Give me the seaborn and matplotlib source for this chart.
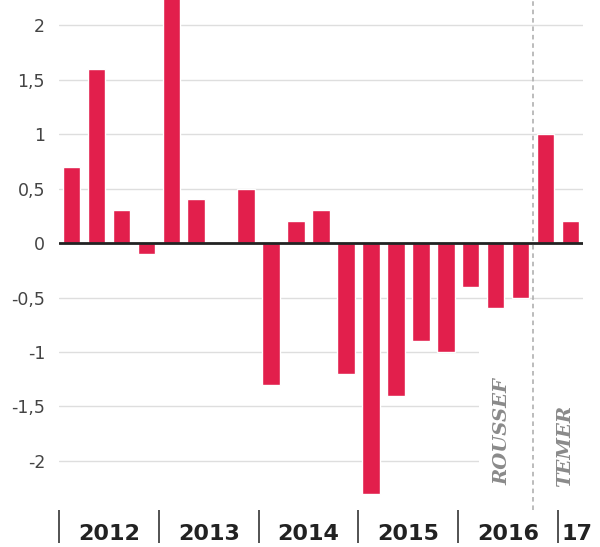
import matplotlib
matplotlib.use("Agg")
import matplotlib.pyplot as plt
from matplotlib.patches import Rectangle
import seaborn as sns
import pandas as pd

# variação trimestral do PIB (%)
trimestres = ["2012T1", "2012T2", "2012T3", "2012T4",
              "2013T1", "2013T2", "2013T3", "2013T4",
              "2014T1", "2014T2", "2014T3", "2014T4",
              "2015T1", "2015T2", "2015T3", "2015T4",
              "2016T1", "2016T2", "2016T3", "2016T4",
              "2017T1"]
valores = [0.7, 1.6, 0.3, -0.1,
           2.4, 0.4, 0.0, 0.5,
           -1.3, 0.2, 0.3, -1.2,
           -2.3, -1.4, -0.9, -1.0,
           -0.4, -0.6, -0.5, 1.0,
           0.2]
anos = ["2012", "2013", "2014", "2015", "2016", "17"]
pos_anos = [1.5, 5.5, 9.5, 13.5, 17.5, 20.25]
separadores = [-0.5, 3.5, 7.5, 11.5, 15.5, 19.5]
yticks = [-2, -1.5, -1, -0.5, 0, 0.5, 1, 1.5, 2]
ylabels = ["-2", "-1,5", "-1", "-0,5", "0", "0,5", "1", "1,5", "2"]

df = pd.DataFrame({"trimestre": trimestres, "valor": valores})

sns.set_style("white")
fig = plt.figure(figsize=(6, 5.47), dpi=100)
ax = fig.add_axes([0.0983, 0.0676, 0.8734, 0.9324])

sns.barplot(data=df, x="trimestre", y="valor", color="#e21f4c", saturation=1,
            width=0.7, ax=ax, zorder=2)

ax.set_xlim(-0.5, 20.5)
ax.set_ylim(-2.45, 2.23)
ax.set_axisbelow(True)
ax.yaxis.grid(True, color="#dedede", lw=1)
for s in ax.spines.values():
    s.set_visible(False)

# caixa branca atrás dos nomes
ax.add_patch(Rectangle((16.35, -2.45), 4.2, 1.72, facecolor="white",
                       edgecolor="none", zorder=1))

ax.axhline(0, color="#222222", lw=2, zorder=3)
ax.axvline(18.5, color="#aaaaaa", lw=1.1, ls=(0, (3, 2.5)), zorder=3)

ax.set_yticks(yticks)
ax.set_yticklabels(ylabels, fontsize=12.5, color="#444444")
ax.tick_params(axis="y", length=0, pad=10)

ax.set_xticks(pos_anos)
ax.set_xticklabels(anos, fontsize=16, fontweight="bold", color="#222222")
ax.set_xticks(separadores, minor=True)
ax.tick_params(axis="x", which="major", length=0, pad=10)
ax.tick_params(axis="x", which="minor", bottom=True, length=24, width=1.3,
               color="#444444", direction="out")
ax.set_xlabel("")
ax.set_ylabel("")

ax.text(17.26, -1.73, "ROUSSEF", rotation=90, ha="center", va="center",
        fontsize=14, fontweight="bold", fontstyle="italic",
        family="DejaVu Serif", color="#8a8a8a", zorder=4)
ax.text(19.8, -1.86, "TEMER", rotation=90, ha="center", va="center",
        fontsize=14, fontweight="bold", fontstyle="italic",
        family="DejaVu Serif", color="#8a8a8a", zorder=4)

fig.savefig("out.png", dpi=100)
